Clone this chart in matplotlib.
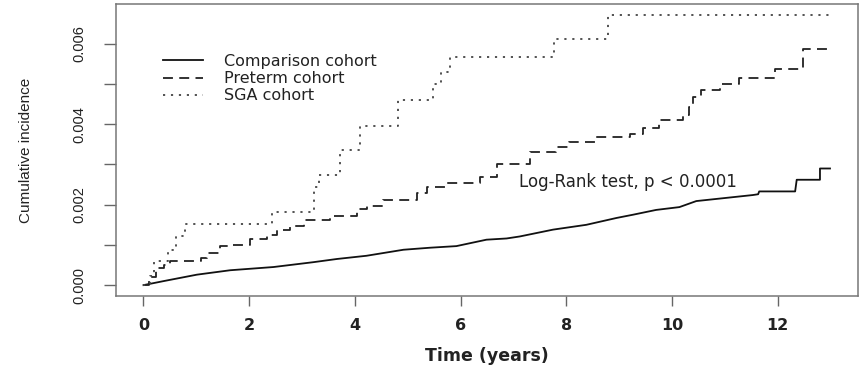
import numpy as np
import matplotlib
matplotlib.use("Agg")
import matplotlib.pyplot as plt
from matplotlib.ticker import MultipleLocator, FormatStrFormatter

# cumulative incidence by cohort (time in years)
comp_t = [0, 0.38, 1.01, 1.64, 2.46, 3.21, 3.66, 4.22, 4.92, 5.42, 5.92, 6.49,
          6.87, 7.12, 7.75, 8.38, 8.95, 9.26, 9.7, 10.14, 10.46, 10.96, 11.53,
          11.63, 11.65, 12.33, 12.36, 12.8, 12.8, 12.99]
comp_v = [0, 0.0001, 0.00026, 0.00037, 0.00045, 0.00057, 0.00065, 0.00073,
          0.00088, 0.00093, 0.00097, 0.00113, 0.00116, 0.00121, 0.00138,
          0.0015, 0.00167, 0.00175, 0.00187, 0.00194, 0.00209, 0.00216,
          0.00224, 0.00226, 0.00233, 0.00233, 0.00262, 0.00262, 0.0029, 0.0029]

pre_t = [0, 0.1, 0.23, 0.38, 0.51, 1.08, 1.2, 1.45, 1.7, 2.02, 2.34, 2.52,
         2.78, 3.03, 3.53, 4.04, 4.22, 4.54, 5.17, 5.36, 5.74, 6.36, 6.68,
         7.31, 7.81, 8.06, 8.56, 9.2, 9.45, 9.76, 10.2, 10.33, 10.4, 10.55,
         10.9, 11.27, 11.94, 12.47, 12.97]
pre_v = [0, 0.0002, 0.00043, 0.00051, 0.00059, 0.00068, 0.0008, 0.00097,
         0.001, 0.00115, 0.00125, 0.00138, 0.00146, 0.00163, 0.00171,
         0.00189, 0.00196, 0.00212, 0.00229, 0.00245, 0.00253, 0.0027, 0.003,
         0.00332, 0.00344, 0.00356, 0.00369, 0.00377, 0.0039, 0.0041,
         0.00422, 0.00443, 0.00468, 0.00484, 0.005, 0.00516, 0.00538,
         0.00588, 0.00588]

sga_t = [0, 0.12, 0.2, 0.47, 0.62, 0.79, 2.43, 3.22, 3.32, 3.72, 4.1, 4.82,
         5.48, 5.62, 5.8, 7.76, 8.79, 12.97]
sga_v = [0, 0.00022, 0.0006, 0.00088, 0.00121, 0.00152, 0.00182, 0.00245,
         0.00274, 0.00336, 0.00395, 0.00461, 0.005, 0.0053, 0.00567, 0.00612,
         0.00671, 0.00671]

labels = ["Comparison cohort", "Preterm cohort", "SGA cohort"]
x_ticks = [0, 2, 4, 6, 8, 10, 12]

fig = plt.figure(figsize=(8.6, 3.67), dpi=100)
ax = fig.add_axes([0.1349, 0.1935, 0.8628, 0.7956])

ax.plot(comp_t, comp_v, color="#111111", lw=1.3, label=labels[0])
ax.plot(pre_t, pre_v, color="#222222", lw=1.3, drawstyle="steps-post",
        dashes=(5.5, 3.5), label=labels[1])
ax.plot(sga_t, sga_v, color="#444444", lw=1.3, drawstyle="steps-post",
        dashes=(1.2, 3.2), label=labels[2])

ax.set_xlim(-0.52, 13.52)
ax.set_ylim(-0.00027, 0.00699)

ax.set_xticks(x_ticks)
ax.yaxis.set_major_locator(MultipleLocator(0.002))
ax.yaxis.set_minor_locator(MultipleLocator(0.001))
ax.yaxis.set_major_formatter(FormatStrFormatter("%.3f"))

for s in ax.spines.values():
    s.set_color("#777777")
    s.set_linewidth(1.1)

ax.tick_params(axis="x", length=7, width=1, color="#666666", pad=9)
ax.tick_params(axis="y", which="both", length=8.6, width=1, color="#666666", pad=13)
for lab in ax.get_xticklabels():
    lab.set_fontfamily("DejaVu Sans")
    lab.set_fontweight("bold")
    lab.set_fontsize(11.5)
    lab.set_color("#222222")
for lab in ax.get_yticklabels():
    lab.set_fontfamily("Liberation Sans")
    lab.set_fontsize(10.5)
    lab.set_rotation(90)
    lab.set_va("center")
    lab.set_color("#222222")

ax.set_xlabel("Time (years)", fontsize=12.5, fontweight="bold",
              fontfamily="DejaVu Sans", color="#222222", labelpad=10)
ax.set_ylabel("Cumulative incidence", fontsize=11, fontfamily="Liberation Sans",
              color="#222222", labelpad=28)

ax.text(9.16, 0.00256, "Log-Rank test, p < 0.0001", ha="center", va="center",
        fontsize=12, color="#222222")

ax.legend(loc="upper left", bbox_to_anchor=(163 / 860, 1 - 54 / 367),
          bbox_transform=fig.transFigure, frameon=False, fontsize=11.5,
          handlelength=2.5, handletextpad=1.35, labelspacing=0.14,
          borderpad=0, borderaxespad=0, labelcolor="#222222")

fig.savefig("out.png", dpi=100)
